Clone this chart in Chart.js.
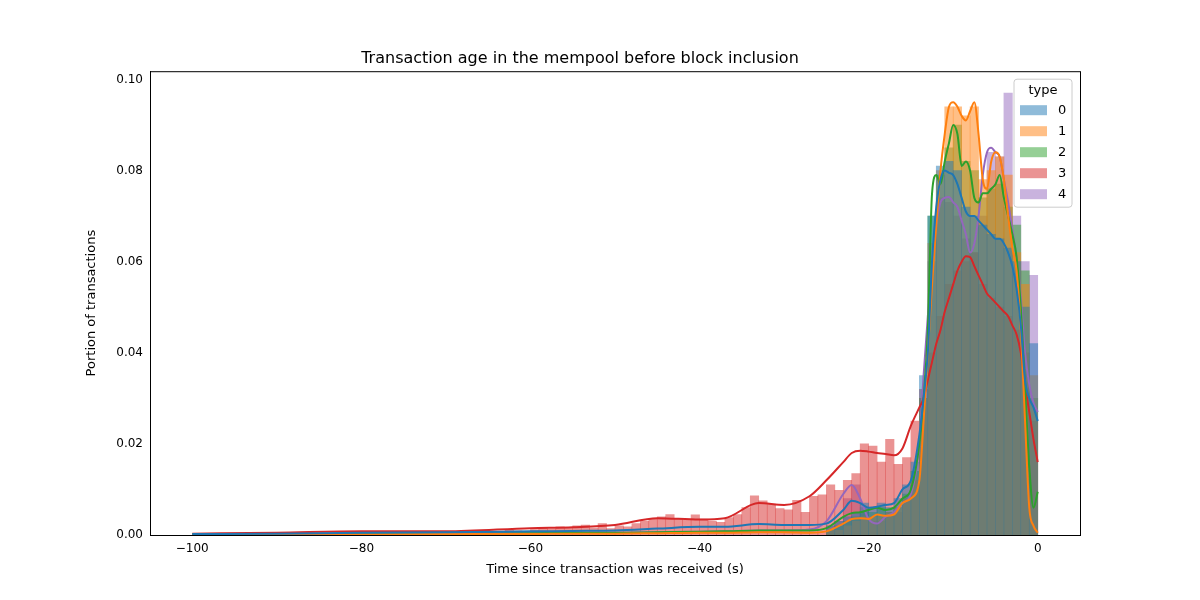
<!DOCTYPE html>
<html><head><meta charset="utf-8">
<script src="https://cdn.jsdelivr.net/npm/chart.js@4"></script>
<style>html,body{margin:0;padding:0;background:#fff}#w{width:1200px;height:600px}</style>
</head><body><div id="w"><canvas id="c"></canvas></div>
<script>
const types = ["0","1","2","3","4"];
const colors = ["#1f77b4","#ff7f0e","#2ca02c","#d62728","#9467bd"];
const xTicks = [-100,-80,-60,-40,-20,0];
const yTicks = [0,0.02,0.04,0.06,0.08,0.10];
// histogram bin left edges -25..-1 for types 0,1,2,4
const binsShort = [-25,-24,-23,-22,-21,-20,-19,-18,-17,-16,-15,-14,-13,-12,-11,-10,-9,-8,-7,-6,-5,-4,-3,-2,-1];
const hist0 = [.002,.003,.004,.005,.007,.006,.007,.006,.008,.011,.016,.035,.07,.081,.082,.08,.072,.07,.068,.066,.065,.063,.06,.05,.042];
const hist1 = [.001,.001,.002,.003,.004,.004,.004,.005,.006,.008,.012,.03,.064,.08,.094,.094,.092,.094,.078,.08,.083,.079,.062,.055,.035];
const hist2 = [.001,.002,.003,.004,.005,.005,.006,.005,.006,.009,.014,.03,.07,.079,.085,.09,.082,.08,.074,.076,.077,.072,.068,.058,.03];
const hist4 = [.002,.003,.008,.011,.006,.003,.003,.005,.005,.008,.012,.03,.06,.074,.073,.07,.065,.062,.07,.084,.083,.097,.07,.06,.057];
// type 3 bins -70..-1
const binsLong = [];
for (let e=-70;e<=-1;e++) binsLong.push(e);
const hist3 = [.0008,.0006,.0007,.0009,.0005,.0008,.0007,.001,.0009,.0008,
 .0012,.0015,.0013,.0018,.0016,.002,.0022,.0015,.0025,.0014,
 .002,.0018,.0025,.003,.0035,.004,.0045,.0036,.0032,.0044,
 .0035,.003,.0028,.0038,.0045,.006,.0086,.0075,.0068,.0058,
 .0055,.0076,.005,.0085,.0088,.011,.0098,.012,.0135,.02,
 .0195,.016,.021,.0155,.017,.025,.032,.04,.048,.055,
 .058,.06,.062,.055,.052,.05,.048,.045,.04,.025];
// density curves
const kx = [-100,-90,-80,-70,-60,-55,-50,-45,-40,-37,-33,-30,-27,-25,-23,-22,-21,-20,-19,-18,-17,-16,-15,-14,-13.5,-13,-12.5,-12,-11.5,-11,-10.5,-10,-9.5,-9,-8.5,-8,-7.5,-7,-6.5,-6,-5.5,-5,-4.5,-4,-3.5,-3,-2.5,-2,-1.5,-1,-0.5,0];
const kde0 = [.0002,.0003,.0005,.0006,.0008,.0009,.001,.0014,.0018,.0018,.0024,.0022,.0022,.0025,.0055,.0075,.007,.006,.0062,.0066,.007,.010,.012,.022,.030,.040,.060,.072,.078,.080,.0795,.079,.077,.074,.071,.070,.070,.069,.068,.067,.066,.065,.065,.064,.062,.059,.054,.046,.034,.030,.028,.025];
const kde1 = [.0001,.0001,.0001,.0002,.0002,.0003,.0003,.0004,.0005,.0005,.0006,.0006,.0005,.0008,.0025,.0035,.0037,.0035,.0045,.0042,.0045,.007,.008,.012,.025,.040,.055,.068,.080,.088,.094,.095,.094,.092,.091,.093,.095,.088,.078,.076,.082,.084,.083,.078,.070,.063,.058,.045,.025,.006,.002,.0005];
const kde2 = [.0001,.0002,.0002,.0003,.0004,.0005,.0005,.0006,.0007,.0008,.001,.001,.001,.0015,.004,.0048,.005,.0055,.006,.0055,.006,.008,.010,.020,.030,.045,.075,.079,.077,.082,.086,.090,.088,.081,.082,.080,.074,.073,.075,.075,.076,.077,.079,.074,.070,.066,.061,.050,.032,.015,.006,.0095];
const kde3 = [.0003,.0005,.0008,.0008,.0015,.0017,.0022,.0037,.0034,.0037,.007,.0066,.0085,.012,.016,.018,.0185,.0183,.018,.0178,.0175,.019,.024,.028,.030,.034,.038,.042,.045,.049,.052,.055,.058,.060,.0612,.061,.059,.057,.055,.053,.052,.051,.050,.049,.048,.046,.044,.040,.033,.027,.021,.016];
const kde4 = [.0001,.0001,.0002,.0003,.0004,.0004,.0005,.0006,.0007,.0008,.001,.001,.0012,.003,.009,.011,.008,.0035,.0025,.004,.005,.007,.009,.020,.035,.048,.058,.068,.073,.074,.0742,.073,.072,.069,.066,.062,.064,.070,.079,.084,.085,.084,.083,.078,.073,.067,.061,.052,.040,.033,.029,.027];

const hists = [[binsShort,hist0],[binsShort,hist1],[binsShort,hist2],[binsLong,hist3],[binsShort,hist4]];
const kdes = [kde0,kde1,kde2,kde3,kde4];
function rgba(hex,a){const n=parseInt(hex.slice(1),16);return `rgba(${n>>16},${(n>>8)&255},${n&255},${a})`;}
const datasets = [];
hists.forEach(([b,h],i)=>{
  datasets.push({type:'bar',label:types[i],data:b.map((e,j)=>({x:e+0.5,y:h[j]})),backgroundColor:rgba(colors[i],0.5),borderWidth:0,barPercentage:1,categoryPercentage:1,grouped:false,order:2});
});
kdes.forEach((k,i)=>{
  datasets.push({type:'line',label:'kde'+i,data:kx.map((x,j)=>({x,y:k[j]})),borderColor:colors[i],borderWidth:2,pointRadius:0,tension:0.4,cubicInterpolationMode:'monotone',fill:false,order:1});
});
const frame = {id:'frame',afterDraw(ch){const {ctx,chartArea:a}=ch;ctx.save();ctx.strokeStyle='#000';ctx.lineWidth=1;ctx.strokeRect(a.left+0.5,a.top+0.5,a.right-a.left,a.bottom-a.top);
  const x0=a.right-66,y0=a.top+8,w=58,h=128;
  ctx.fillStyle='rgba(255,255,255,0.8)';ctx.strokeStyle='#ccc';ctx.beginPath();ctx.roundRect(x0,y0,w,h,3);ctx.fill();ctx.stroke();
  ctx.fillStyle='#000';ctx.font='13px "DejaVu Sans"';ctx.textAlign='center';ctx.textBaseline='middle';ctx.fillText('type',x0+w/2,y0+11);
  types.forEach((t,i)=>{const yy=y0+31+i*21;ctx.fillStyle=rgba(colors[i],0.5);ctx.fillRect(x0+6,yy-5,27,10);ctx.fillStyle='#000';ctx.textAlign='left';ctx.fillText(t,x0+44,yy);});
  ctx.restore();}};
new Chart(document.getElementById('c'),{
  data:{datasets},
  plugins:[frame],
  options:{responsive:true,maintainAspectRatio:false,animation:false,
    layout:{padding:{left:80,right:120,top:0,bottom:19}},
    plugins:{legend:{display:false},tooltip:{enabled:false},
      title:{display:true,text:'Transaction age in the mempool before block inclusion',color:'#000',font:{family:'DejaVu Sans',size:16,weight:'normal'},padding:{top:49,bottom:3}}},
    scales:{
      x:{type:'linear',offset:false,min:-105,max:5,grid:{display:false,offset:false,tickLength:4},border:{color:'#000'},
        afterBuildTicks(s){s.ticks=xTicks.map(v=>({value:v}));},
        ticks:{color:'#000',font:{family:'DejaVu Sans',size:12},callback:v=>String(v).replace('-','\u2212')},
        title:{display:true,text:'Time since transaction was received (s)',color:'#000',font:{family:'DejaVu Sans',size:13},padding:{top:2}}},
      y:{min:0,max:0.1018,grid:{display:false,tickLength:4},border:{color:'#000'},
        afterBuildTicks(s){s.ticks=yTicks.map(v=>({value:v}));},
        afterFit(s){s.width=70;},
        ticks:{color:'#000',font:{family:'DejaVu Sans',size:12},callback:v=>v.toFixed(2)},
        title:{display:true,text:'Portion of transactions',color:'#000',font:{family:'DejaVu Sans',size:13},padding:{bottom:4}}}
    }}
});
</script></body></html>
